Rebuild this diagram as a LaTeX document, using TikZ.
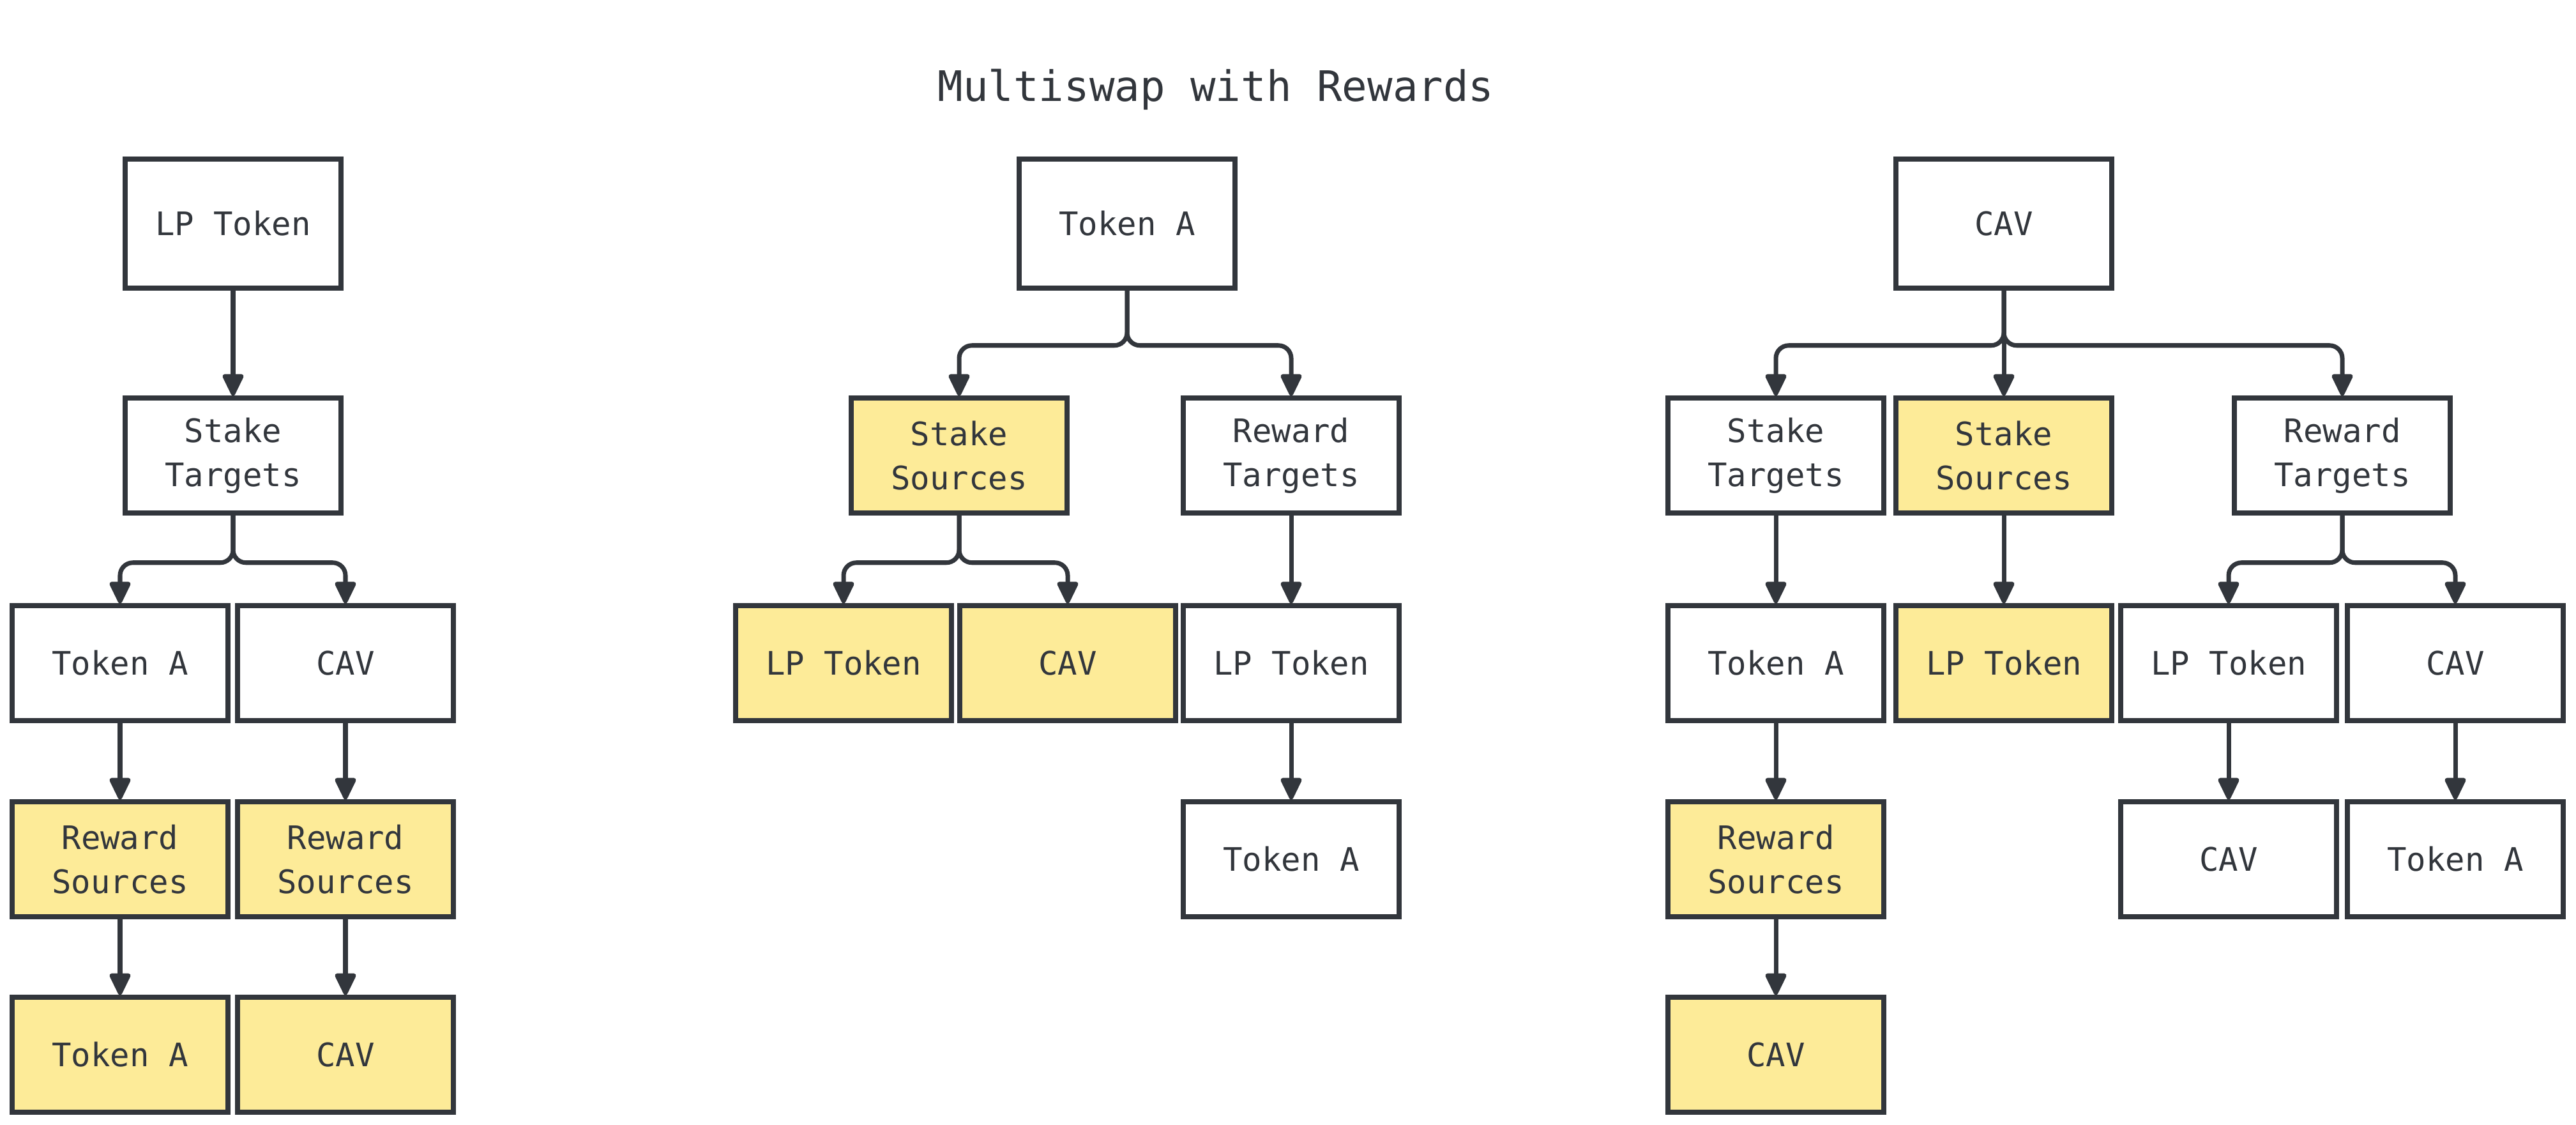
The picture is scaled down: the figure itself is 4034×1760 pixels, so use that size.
\documentclass[tikz,border=0pt]{standalone}
\usepackage{fontspec}
\setmonofont{DejaVu Sans Mono}
\usetikzlibrary{arrows.meta}
\definecolor{inkgrey}{HTML}{32363C}
\definecolor{hiyellow}{HTML}{FDEB98}

\begin{document}
\begin{tikzpicture}[x=0.01cm, y=-0.01cm,
    box/.style={draw=inkgrey, line width=2.1pt, fill=white, text=inkgrey,
      minimum width=3.38cm, minimum height=1.8cm, inner sep=0pt, align=center,
      font=\ttfamily\fontsize{14.4}{19.6}\selectfont},
    topbox/.style={box, minimum height=2.02cm},
    hibox/.style={box, fill=hiyellow},
    link/.style={draw=inkgrey, line width=2pt, rounded corners=0.2cm,
      -{Triangle[length=11pt,width=10pt,round]}}]
     \useasboundingbox (0,0) rectangle (4034,1760);

     \node[anchor=base, text=inkgrey, font=\ttfamily\fontsize{18.7}{22}\selectfont] (title) at (1904,158) {Multiswap with Rewards};

     % left tree
     \node[topbox] (l0) at (365,350) {LP Token};
     \node[box] (l1) at (365,713) {Stake\\Targets};
     \node[box] (l2a) at (188,1038) {Token A};
     \node[box] (l2b) at (541,1038) {CAV};
     \node[hibox] (l3a) at (188,1345) {Reward\\Sources};
     \node[hibox] (l3b) at (541,1345) {Reward\\Sources};
     \node[hibox] (l4a) at (188,1651) {Token A};
     \node[hibox] (l4b) at (541,1651) {CAV};

     \draw[link] (l0) -- (l1);
     \draw[link] (l1.south) -- ++(0,74) -| (l2a.north);
     \draw[link] (l1.south) -- ++(0,74) -| (l2b.north);
     \draw[link] (l2a) -- (l3a);
     \draw[link] (l2b) -- (l3b);
     \draw[link] (l3a) -- (l4a);
     \draw[link] (l3b) -- (l4b);

     % middle tree
     \node[topbox] (m0) at (1765,350) {Token A};
     \node[hibox] (m1a) at (1502,713) {Stake\\Sources};
     \node[box] (m1b) at (2022,713) {Reward\\Targets};
     \node[hibox] (m2a) at (1321,1038) {LP Token};
     \node[hibox] (m2b) at (1672,1038) {CAV};
     \node[box] (m2c) at (2022,1038) {LP Token};
     \node[box] (m3) at (2022,1345) {Token A};

     \draw[link] (m0.south) -- ++(0,86) -| (m1a.north);
     \draw[link] (m0.south) -- ++(0,86) -| (m1b.north);
     \draw[link] (m1a.south) -- ++(0,74) -| (m2a.north);
     \draw[link] (m1a.south) -- ++(0,74) -| (m2b.north);
     \draw[link] (m1b) -- (m2c);
     \draw[link] (m2c) -- (m3);

     % right tree
     \node[topbox] (r0) at (3138,350) {CAV};
     \node[box] (r1a) at (2781,713) {Stake\\Targets};
     \node[hibox] (r1b) at (3138,713) {Stake\\Sources};
     \node[box] (r1c) at (3668,713) {Reward\\Targets};
     \node[box] (r2a) at (2781,1038) {Token A};
     \node[hibox] (r2b) at (3138,1038) {LP Token};
     \node[box] (r2c) at (3490,1038) {LP Token};
     \node[box] (r2d) at (3845,1038) {CAV};
     \node[hibox] (r3a) at (2781,1345) {Reward\\Sources};
     \node[box] (r3c) at (3490,1345) {CAV};
     \node[box] (r3d) at (3845,1345) {Token A};
     \node[hibox] (r4a) at (2781,1651) {CAV};

     \draw[link] (r0.south) -- ++(0,86) -| (r1a.north);
     \draw[link] (r0) -- (r1b);
     \draw[link] (r0.south) -- ++(0,86) -| (r1c.north);
     \draw[link] (r1a) -- (r2a);
     \draw[link] (r1b) -- (r2b);
     \draw[link] (r1c.south) -- ++(0,74) -| (r2c.north);
     \draw[link] (r1c.south) -- ++(0,74) -| (r2d.north);
     \draw[link] (r2a) -- (r3a);
     \draw[link] (r2c) -- (r3c);
     \draw[link] (r2d) -- (r3d);
     \draw[link] (r3a) -- (r4a);

  \end{tikzpicture}
\end{document}
